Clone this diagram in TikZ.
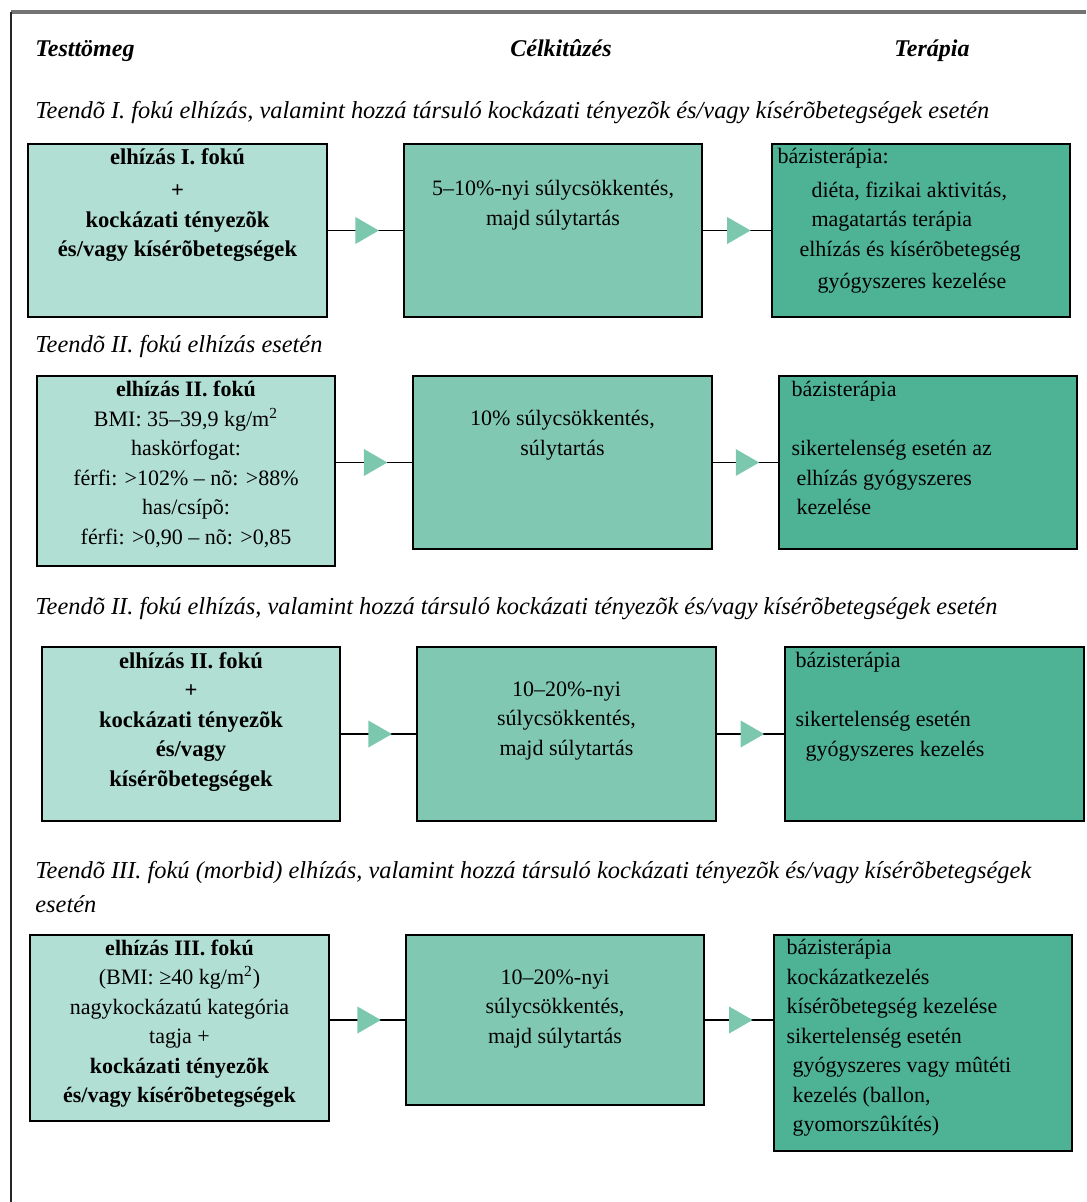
\documentclass[tikz,border=0pt]{standalone}
\usepackage{fontspec}
\setmainfont{Liberation Serif}
\usepackage{tikz}
\usetikzlibrary{shapes.geometric, positioning, fit}
\usepackage{xcolor}
\definecolor{lightteal}{HTML}{B2DFD3}
\definecolor{midteal}{HTML}{80C8B1}
\definecolor{darkteal}{HTML}{4DB394}
\definecolor{tipteal}{HTML}{7CC8AF}
\tikzstyle{cell} = [rectangle, draw=black, line width=0.9pt, inner sep=0pt]
\tikzstyle{lightbox} = [cell, fill=lightteal]
\tikzstyle{midbox} = [cell, fill=midteal]
\tikzstyle{darkbox} = [cell, fill=darkteal]
\tikzstyle{celltext} = [align=center, inner sep=0pt, font=\fontsize{11}{14.75}\selectfont]
\tikzstyle{boldtext} = [celltext, font=\bfseries\fontsize{11.3}{14.75}\selectfont]
\tikzstyle{lefttext} = [align=left, inner sep=0pt, font=\fontsize{11}{14.75}\selectfont]
\tikzstyle{caption} = [anchor=west, inner sep=0pt, font=\itshape\fontsize{12.2}{16.5}\selectfont]
\tikzstyle{heading} = [inner sep=0pt, anchor=base, font=\bfseries\itshape\fontsize{12}{14}\selectfont]
\tikzstyle{tri} = [isosceles triangle, isosceles triangle apex angle=60, fill=tipteal, inner sep=0pt, minimum width=13.5pt]
\tikzstyle{link} = [line width=0.8pt]

\begin{document}
\begin{tikzpicture}[x=0.5pt, y=-0.5pt]
\useasboundingbox (0,0) rectangle (1086,1202);

% Frame
\draw[line width=1.6pt, black!55] (11,12) -- (1086,12);
\draw[line width=1pt, black!85] (11,12) -- (11,1202);

% Headings
\node[heading, anchor=base west] (hmass) at (35,57) {Testtömeg};
\node[heading] (hgoal) at (561,57) {Célkitûzés};
\node[heading] (hther) at (932,57) {Terápia};

% Row 1
\node[caption] (cap1) at (35,113) {Teendõ I. fokú elhízás, valamint hozzá társuló kockázati tényezõk és/vagy kísérõbetegségek esetén};
\node[lightbox, fit={(28,144) (327,317)}] (a1) {};
\node[midbox, fit={(404,144) (702,317)}] (b1) {};
\node[darkbox, fit={(772,144) (1070,317)}] (c1) {};
\node[boldtext, below=2.5pt of a1.north] (a1t) {elhízás I. fokú\\[2pt] +\\ kockázati tényezõk\\ és/vagy kísérõbetegségek};
\node[celltext, below=18.5pt of b1.north] (b1t) {5–10\%-nyi súlycsökkentés,\\ majd súlytartás};
\node[lefttext, below right=2.5pt and 3pt of c1.north west] (c1t) {bázisterápia:\\[2pt]
  \hspace*{17pt}diéta, fizikai aktivitás,\\
  \hspace*{17pt}magatartás terápia\\
  \hspace*{11pt}elhízás és kísérõbetegség\\[1.5pt]
  \hspace*{20pt}gyógyszeres kezelése};

% Row 2
\node[caption] (cap2) at (35,347) {Teendõ II. fokú elhízás esetén};
\node[lightbox, fit={(37,376) (335,566)}] (a2) {};
\node[midbox, fit={(413,376) (712,549)}] (b2) {};
\node[darkbox, fit={(779,376) (1077,549)}] (c2) {};
\node[celltext, below=3pt of a2.north] (a2t) {\textbf{elhízás II. fokú}\\ BMI: 35–39,9 kg/m\textsuperscript{2}\\ haskörfogat:\\ férfi: >102\% – nõ: >88\%\\ has/csípõ:\\ férfi: >0,90 – nõ: >0,85};
\node[celltext, below=17.5pt of b2.north] (b2t) {10\% súlycsökkentés,\\ súlytartás};
\node[lefttext, below right=3pt and 6.5pt of c2.north west] (c2t) {bázisterápia\\[14.75pt]
  sikertelenség esetén az\\
  \hspace*{2.5pt}elhízás gyógyszeres\\
  \hspace*{2.5pt}kezelése};

% Row 3
\node[caption] (cap3) at (35,609) {Teendõ II. fokú elhízás, valamint hozzá társuló kockázati tényezõk és/vagy kísérõbetegségek esetén};
\node[lightbox, fit={(42,647) (340,821)}] (a3) {};
\node[midbox, fit={(417,647) (716,821)}] (b3) {};
\node[darkbox, fit={(785,647) (1084,821)}] (c3) {};
\node[boldtext, below=3pt of a3.north] (a3t) {elhízás II. fokú\\ +\\ kockázati tényezõk\\ és/vagy\\ kísérõbetegségek};
\node[celltext, below=17.5pt of b3.north] (b3t) {10–20\%-nyi\\ súlycsökkentés,\\ majd súlytartás};
\node[lefttext, below right=3pt and 5.5pt of c3.north west] (c3t) {bázisterápia\\[14.75pt]
  sikertelenség esetén\\
  \hspace*{5pt}gyógyszeres kezelés};

% Row 4
\node[caption, anchor=north west, align=left] (cap4) at (35,861) {Teendõ III. fokú (morbid) elhízás, valamint hozzá társuló kockázati tényezõk és/vagy kísérõbetegségek\\[0.5pt] esetén};
\node[lightbox, fit={(30,935) (329,1121)}] (a4) {};
\node[midbox, fit={(406,935) (704,1105)}] (b4) {};
\node[darkbox, fit={(774,935) (1072,1151)}] (c4) {};
\node[celltext, below=2.5pt of a4.north] (a4t) {\textbf{elhízás III. fokú}\\ (BMI: ≥40 kg/m\textsuperscript{2})\\ nagykockázatú kategória\\ tagja +\\ \textbf{kockázati tényezõk}\\ \textbf{és/vagy kísérõbetegségek}};
\node[celltext, below=17.5pt of b4.north] (b4t) {10–20\%-nyi\\ súlycsökkentés,\\ majd súlytartás};
\node[lefttext, below right=2.5pt and 6.5pt of c4.north west] (c4t) {bázisterápia\\
  kockázatkezelés\\
  kísérõbetegség kezelése\\
  sikertelenség esetén\\
  \hspace*{3pt}gyógyszeres vagy mûtéti\\
  \hspace*{3pt}kezelés (ballon,\\
  \hspace*{3pt}gyomorszûkítés)};

% Arrows
\draw[link] (a1.east |- b1.west) -- node[tri, pos=0.47] {} (b1.west);
\draw[link] (b1.east) -- node[tri, pos=0.47] {} (c1.west |- b1.east);
\draw[link] (a2.east |- b2.west) -- node[tri, pos=0.47] {} (b2.west);
\draw[link] (b2.east) -- node[tri, pos=0.47] {} (c2.west |- b2.east);
\draw[link] (a3.east |- b3.west) -- node[tri, pos=0.47] {} (b3.west);
\draw[link] (b3.east) -- node[tri, pos=0.47] {} (c3.west |- b3.east);
\draw[link] (a4.east |- b4.west) -- node[tri, pos=0.47] {} (b4.west);
\draw[link] (b4.east) -- node[tri, pos=0.47] {} (c4.west |- b4.east);

\end{tikzpicture}
\end{document}
